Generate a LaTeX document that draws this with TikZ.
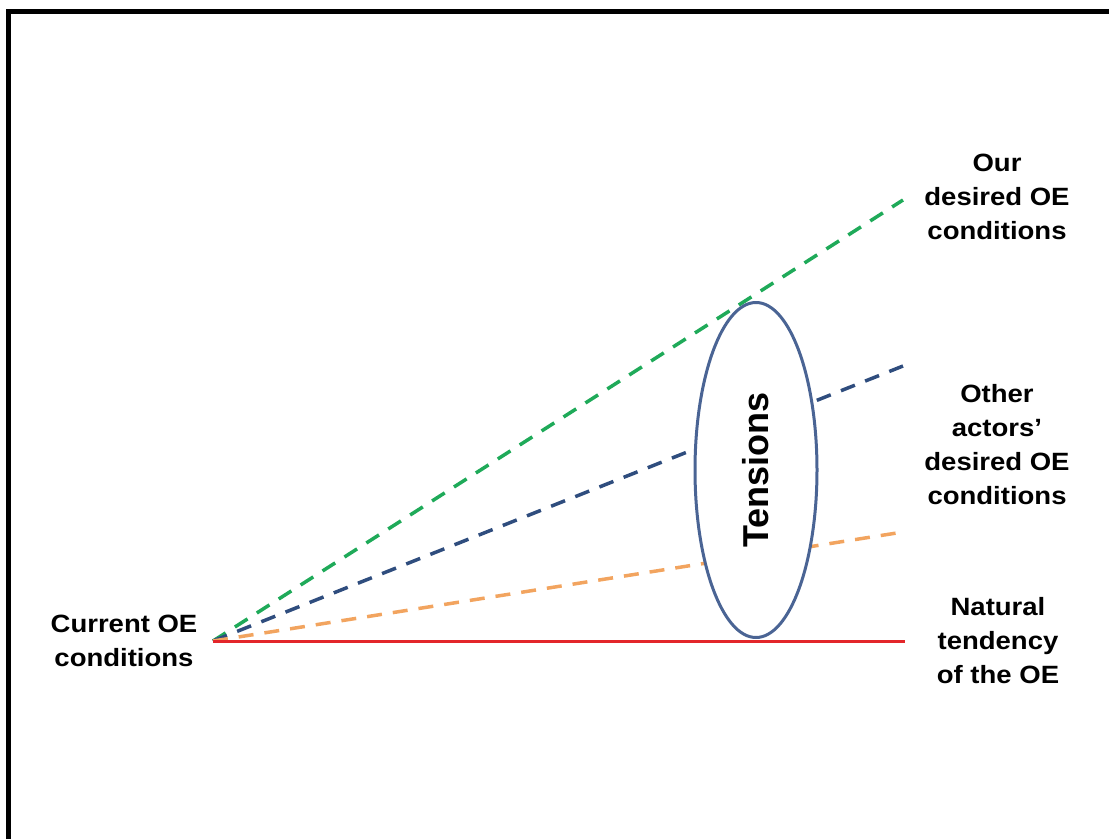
\documentclass[tikz,border=0pt]{standalone}
\usepackage{fontspec}
\setmainfont{Liberation Sans}
\newfontfamily\lblfont[FakeStretch=1.1]{Liberation Sans}
\usetikzlibrary{shapes.geometric}

\definecolor{ourgreen}{HTML}{1FAA59}
\definecolor{otherblue}{HTML}{2F4D7E}
\definecolor{natorange}{HTML}{F2A45F}
\definecolor{natred}{HTML}{E3262A}
\definecolor{tensblue}{HTML}{4A6494}

\tikzset{
  lbl/.style={align=center, font=\lblfont\fontsize{25}{34}\selectfont\bfseries},
  trend/.style={line width=3.5pt, dash pattern=on 15pt off 11pt},
  tensbox/.style={ellipse, draw=tensblue, line width=3pt, fill=white,
    minimum width=335pt, minimum height=122pt, inner sep=0pt,
    font=\fontsize{36}{40}\selectfont\bfseries}
}

\begin{document}
\begin{tikzpicture}[x=1pt,y=-1pt]
\useasboundingbox (0,0) rectangle (1109,839);
\draw[line width=5pt] (8.5,839) -- (8.5,11) -- (1109,11);

\coordinate (now) at (213,641);
\coordinate (ourend) at (903,200);
\coordinate (otherend) at (903,366);
\coordinate (orangeend) at (903,532);
\coordinate (natend) at (905,641);

\draw[trend, ourgreen] (now) -- (ourend);
\draw[trend, otherblue] (now) -- (otherend);
\draw[trend, natorange] (now) -- (orangeend);
\draw[natred, line width=3pt] (now) -- (natend);

\node[tensbox, rotate=90] (tens) at (756,470) {Tensions};

\node[lbl] (cur) at (124,641) {Current OE\\conditions};
\node[lbl] (our) at (997,197) {Our\\desired OE\\conditions};
\node[lbl] (other) at (997,445) {Other\\actors’\\desired OE\\conditions};
\node[lbl] (nat) at (998,641) {Natural\\tendency\\of the OE};
\end{tikzpicture}
\end{document}
